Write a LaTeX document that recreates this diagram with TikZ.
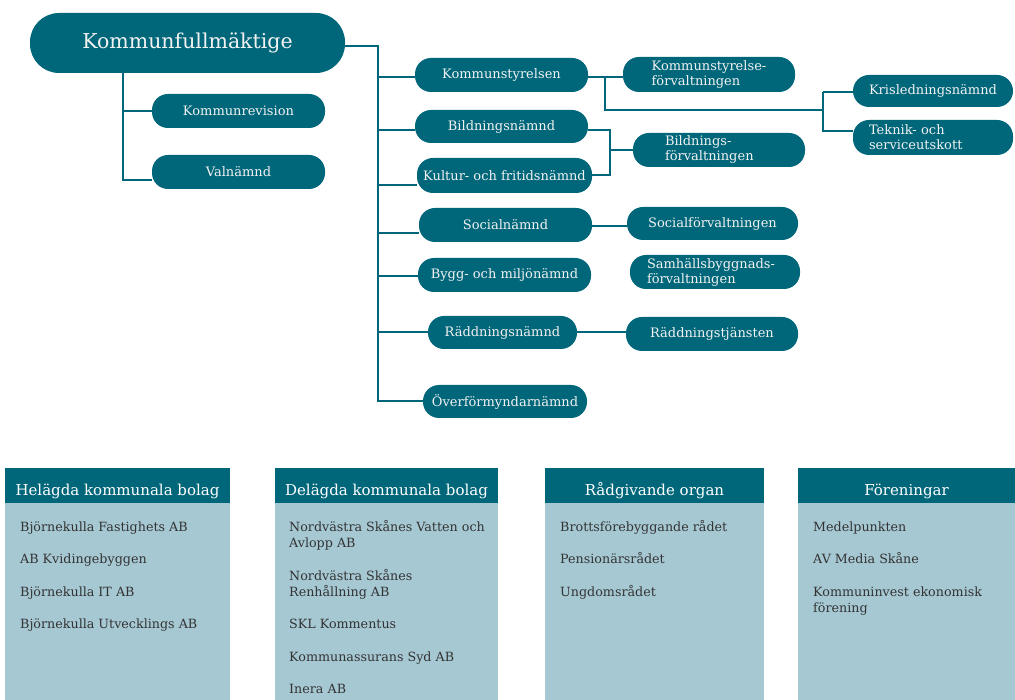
\documentclass[tikz,border=0pt]{standalone}
\usepackage{fontspec}
\setmainfont{DejaVu Serif}
\usetikzlibrary{backgrounds}
\definecolor{teal1}{HTML}{00677A}
\definecolor{lightb}{HTML}{A6C8D3}
\definecolor{bodytext}{HTML}{333333}
\definecolor{pilltext}{HTML}{F2F2F2}
\begin{document}
\begin{tikzpicture}[x=1pt,y=-1pt,
  pill/.style={fill=teal1, text=pilltext, rounded corners=16pt, minimum height=34pt,
    inner sep=0pt, font=\fontsize{13}{15}\selectfont, align=center},
  conn/.style={draw=teal1, line width=2pt},
  headbox/.style={fill=teal1},
  bodybox/.style={fill=lightb},
  headtext/.style={text=white, font=\fontsize{15}{17}\selectfont, inner sep=0pt, anchor=base},
  item/.style={text=bodytext, font=\fontsize{12.7}{16}\selectfont, anchor=base west, inner sep=0pt}]
\useasboundingbox (0,0) rectangle (1015,700);

% top node
\node[pill, minimum width=315pt, minimum height=60pt, rounded corners=29pt,
  font=\fontsize{20.5}{24}\selectfont] (kf) at (187.5,43) {Kommunfullmäktige};
\node[pill, minimum width=173pt] (krev) at (238.5,111) {Kommunrevision};
\node[pill, minimum width=173pt] (val) at (238.5,172) {Valnämnd};

\node[pill, minimum width=173pt] (ks) at (501.5,75) {Kommunstyrelsen};
\node[pill, minimum width=172pt, minimum height=35pt, align=left] (ksf) at (709,74.5) {Kommunstyrelse-\\förvaltningen};
\node[pill, minimum width=173pt, minimum height=33pt] (bn) at (501.5,126.5) {Bildningsnämnd};
\node[pill, minimum width=175pt, minimum height=35pt] (kfn) at (504.5,175.5) {Kultur- och fritidsnämnd};
\node[pill, minimum width=172pt, text width=108pt, align=left] (bf) at (719,150) {Bildnings-\\förvaltningen};
\node[pill, minimum width=173pt] (sn) at (505.5,225) {Socialnämnd};
\node[pill, minimum width=171pt, minimum height=33pt] (sf) at (712.5,223.5) {Socialförvaltningen};
\node[pill, minimum width=173pt] (bmn) at (504.5,275) {Bygg- och miljönämnd};
\node[pill, minimum width=170pt, text width=136pt, align=left] (shf) at (715,272) {Samhällsbyggnads-\\förvaltningen};
\node[pill, minimum width=149pt, minimum height=33pt] (rn) at (502.5,332.5) {Räddningsnämnd};
\node[pill, minimum width=172pt] (rt) at (712,334) {Räddningstjänsten};
\node[pill, minimum width=164pt, minimum height=33pt] (of) at (505,401.5) {Överförmyndarnämnd};
\node[pill, minimum width=160pt, minimum height=32pt] (kl) at (933,91) {Krisledningsnämnd};
\node[pill, minimum width=160pt, minimum height=35pt, text width=128pt, align=left] (te) at (933,137.5) {Teknik- och\\serviceutskott};

\begin{scope}[on background layer]
  % left branch
  \coordinate (lt) at ([xshift=-64.5pt]kf.south);
  \draw[conn] (lt) |- ([yshift=-8pt]val.west);
  \draw[conn] (lt |- krev.west) -- (krev.west);
  % main trunk
  \coordinate (t0) at ([xshift=33pt,yshift=-3pt]kf.east);
  \draw[conn] ([yshift=-3pt]kf.east) -- (t0) |- (of.west);
  \draw[conn] ([yshift=-2pt]t0 |- ks.west) -- ([yshift=-2pt]ks.west);
  \draw[conn] ([yshift=-3.5pt]t0 |- bn.west) -- ([yshift=-3.5pt]bn.west);
  \draw[conn] ([yshift=-9.5pt]t0 |- kfn.west) -- ([yshift=-9.5pt]kfn.west);
  \draw[conn] ([yshift=-8pt]t0 |- sn.west) -- ([yshift=-8pt]sn.west);
  \draw[conn] ([yshift=-1pt]t0 |- bmn.west) -- ([yshift=-1pt]bmn.west);
  \draw[conn] (t0 |- rn.west) -- (rn.west);
  % Kommunstyrelsen
  \draw[conn] ([yshift=-2pt]ks.east) -- ([yshift=-2pt]ks.east -| ksf.west);
  \coordinate (k1) at ([xshift=17pt,yshift=-2pt]ks.east);
  \coordinate (kb) at (823,110);
  \draw[conn] (k1) |- (kb);
  \draw[conn] ([yshift=-1pt]kl.west -| kb) |- ([yshift=6pt]te.west);
  \draw[conn] ([yshift=-1pt]kl.west -| kb) -- ([yshift=-1pt]kl.west);
  % Bildning bracket
  \coordinate (bx) at (610,150);
  \draw[conn] ([yshift=-3.5pt]bn.east) -| (bx) |- (kfn.east);
  \draw[conn] (bx) -- (bf.west |- bx);
  % others
  \draw[conn] ([yshift=-1pt]sn.east) -- ([yshift=-1pt]sn.east -| sf.west);
  \draw[conn] (rn.east) -- (rn.east -| rt.west);
\end{scope}

% bottom boxes
\fill[bodybox] (5,503) rectangle (230,700);
\fill[headbox] (5,468) rectangle (230,503);
\fill[bodybox] (275,503) rectangle (498,700);
\fill[headbox] (275,468) rectangle (498,503);
\fill[bodybox] (545,503) rectangle (764,700);
\fill[headbox] (545,468) rectangle (764,503);
\fill[bodybox] (798,503) rectangle (1015,700);
\fill[headbox] (798,468) rectangle (1015,503);

\begin{scope}
  \clip (0,468) rectangle (1015,498.5);
  \node[headtext] (h1) at (117.5,495) {Helägda kommunala bolag};
  \node[headtext] (h2) at (386.5,495) {Delägda kommunala bolag};
  \node[headtext] (h3) at (654.5,495) {Rådgivande organ};
  \node[headtext] (h4) at (906.5,495) {Föreningar};
\end{scope}

\node[item] (a1) at (20,531) {Björnekulla Fastighets AB};
\node[item] (a2) at (20,563.5) {AB Kvidingebyggen};
\node[item] (a3) at (20,596) {Björnekulla IT AB};
\node[item] (a4) at (20,628.5) {Björnekulla Utvecklings AB};

\node[item] (b1) at (289,531) {Nordvästra Skånes Vatten och};
\node[item] (b1b) at (289,547) {Avlopp AB};
\node[item] (b2) at (289,580) {Nordvästra Skånes};
\node[item] (b2b) at (289,596) {Renhållning AB};
\node[item] (b3) at (289,628.5) {SKL Kommentus};
\node[item] (b4) at (289,661) {Kommunassurans Syd AB};
\node[item] (b5) at (289,693.5) {Inera AB};

\node[item] (c1) at (560,531) {Brottsförebyggande rådet};
\node[item] (c2) at (560,563.5) {Pensionärsrådet};
\node[item] (c3) at (560,596) {Ungdomsrådet};

\node[item] (d1) at (813,531) {Medelpunkten};
\node[item] (d2) at (813,563.5) {AV Media Skåne};
\node[item] (d3) at (813,596) {Kommuninvest ekonomisk};
\node[item] (d3b) at (813,612) {förening};
\end{tikzpicture}
\end{document}
